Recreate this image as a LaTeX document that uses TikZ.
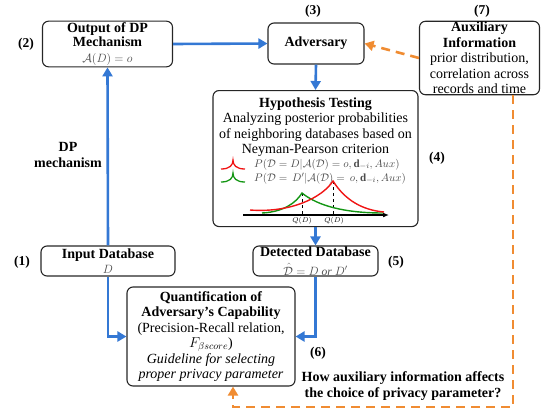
\documentclass[tikz,border=0pt]{standalone}
\usepackage{fontspec}
\setmainfont{Liberation Serif}
\usetikzlibrary{arrows.meta,calc}
\definecolor{flowblue}{RGB}{52,120,212}
\definecolor{auxorange}{RGB}{240,140,50}
\definecolor{curvered}{RGB}{240,20,20}
\definecolor{curvegreen}{RGB}{20,150,20}
\begin{document}
\begin{tikzpicture}[x=1pt,y=-1pt,
  box/.style={draw=black!85,line width=1.1pt,rounded corners=6pt,align=center,inner sep=1pt,
    font=\fontsize{14}{15.4}\selectfont},
  numlabel/.style={font=\fontsize{13.5}{15}\selectfont\bfseries},
  flow/.style={flowblue,line width=2.6pt,-{Triangle[width=10pt,length=9pt]}},
  auxflow/.style={auxorange,line width=2.6pt,dash pattern=on 9pt off 6pt,-{Triangle[width=10pt,length=9pt]}},
  legend/.style={anchor=west,inner sep=0pt,font=\fontsize{11}{11}\selectfont,text=black!70}
]
\useasboundingbox (0,0) rectangle (541,413);

% boxes
\node[box,minimum width=130pt,minimum height=44pt] (out) at (107.5,44)
  {\textbf{Output of DP}\\[-1pt]\textbf{Mechanism}\\[1pt]\textcolor{black!70}{\fontsize{12}{12}\selectfont$\mathcal{A}(D)=o$}};
\node[box,minimum width=96pt,minimum height=41pt] (adv) at (316,43.5) {\textbf{Adversary}};
\node[box,minimum width=120pt,minimum height=72pt] (aux) at (479.5,58)
  {\textbf{Auxiliary}\\\textbf{Information}\\prior distribution,\\correlation across\\records and time};
\node[box,minimum width=205pt,minimum height=136pt,anchor=north] (hyp) at (315.5,90) {};
\node[font=\fontsize{14}{15.4}\selectfont,align=center,anchor=north,inner sep=0pt] (hyptxt) at (315.5,97.5)
  {\textbf{Hypothesis Testing}\\Analyzing posterior probabilities\\of neighboring databases based on\\Neyman-Pearson criterion};
\node[box,minimum width=125pt,minimum height=30pt,inner sep=0pt] (det) at (315.5,261)
  {\textbf{Detected Database}\\[3pt]\textcolor{black!70}{\fontsize{11.5}{11.5}\selectfont$\hat{\mathcal{D}}=D\ \mathit{or}\ D'$}};
\node[box,minimum width=134pt,minimum height=30pt] (inp) at (108,261)
  {\textbf{Input Database}\\[-1pt]\textcolor{black!70}{\fontsize{12}{12}\selectfont$D$}};
\node[box,minimum width=168pt,minimum height=99pt] (quant) at (211,336.5)
  {\textbf{Quantification of}\\\textbf{Adversary's Capability}\\(Precision-Recall relation,\\$F_{\beta score}$)\\\textit{Guideline for selecting}\\\textit{proper privacy parameter}};

% number labels
\node[numlabel] (l1) at (22,262) {(1)};
\node[numlabel] (l2) at (26,44) {(2)};
\node[numlabel] (l3) at (313,11) {(3)};
\node[numlabel] (l4) at (437,158) {(4)};
\node[numlabel] (l5) at (396,262) {(5)};
\node[numlabel] (l6) at (318,353) {(6)};
\node[numlabel] (l7) at (482,11) {(7)};

\node[font=\fontsize{14}{16}\selectfont\bfseries,align=center] (dpm) at (68,155) {DP\\mechanism};
\node[font=\fontsize{14}{16}\selectfont\bfseries,align=center] (how) at (403,386)
  {How auxiliary information affects\\the choice of privacy parameter?};

% legend inside hypothesis box
\draw[curvered,line width=1.3pt] (221,169) .. controls (230,169) and (233,165) .. (233,160)
  .. controls (233,165) and (236,169) .. (245,169);
\draw[curvegreen,line width=1.3pt] (221,182) .. controls (230,182) and (233,178) .. (233,173)
  .. controls (233,178) and (236,182) .. (245,182);
\node[legend] (leg1) at (254,164.5)
  {$P(\mathcal{D}=D|\mathcal{A}(\mathcal{D})=o,\mathbf{d}_{-i},Aux)$};
\node[legend] (leg2) at (254,178.5)
  {$P(\mathcal{D}=\,D'|\mathcal{A}(\mathcal{D})=\,o,\mathbf{d}_{-i},Aux)$};

% plot
\draw[line width=1.2pt,-{Latex[length=6pt,width=5pt]}] (243,215) -- (389,215);
\draw[dashed,line width=0.6pt] (302,193) -- (302,215);
\draw[dashed,line width=0.6pt] (333,181) -- (333,215);
\draw[curvegreen,line width=1.4pt] (262,213) .. controls (283,212) and (296,203) .. (302,193)
  .. controls (318,206) and (345,213) .. (383,213);
\draw[curvered,line width=1.4pt] (250,210) .. controls (290,213) and (322,198) .. (333,181)
  .. controls (345,200) and (362,210) .. (384,212);
\node[font=\fontsize{7.5}{8}\selectfont,inner sep=0pt] (q1) at (302,221) {$Q(D)$};
\node[font=\fontsize{7.5}{8}\selectfont,inner sep=0pt] (q2) at (334,221) {$Q(D)$};

% connectors
\draw[flow] (inp.north) -- (out.south);
\draw[flow] (out.east) -- (adv.west);
\draw[flow] (adv.south) -- (hyp.north);
\draw[flow] (hyp.south) -- (det.north);
\draw[flow] (inp.south) |- (quant.west);
\draw[flow] (det.south) |- (quant.east);
\draw[auxflow] (aux.west) -- (adv.east);
\coordinate (auxout) at (513,94);
\coordinate (qin) at (233,386);
\coordinate (corner) at (513,407);
\draw[auxflow] (aux.south -| auxout) -- (corner) -| (quant.south -| qin);
\end{tikzpicture}
\end{document}
